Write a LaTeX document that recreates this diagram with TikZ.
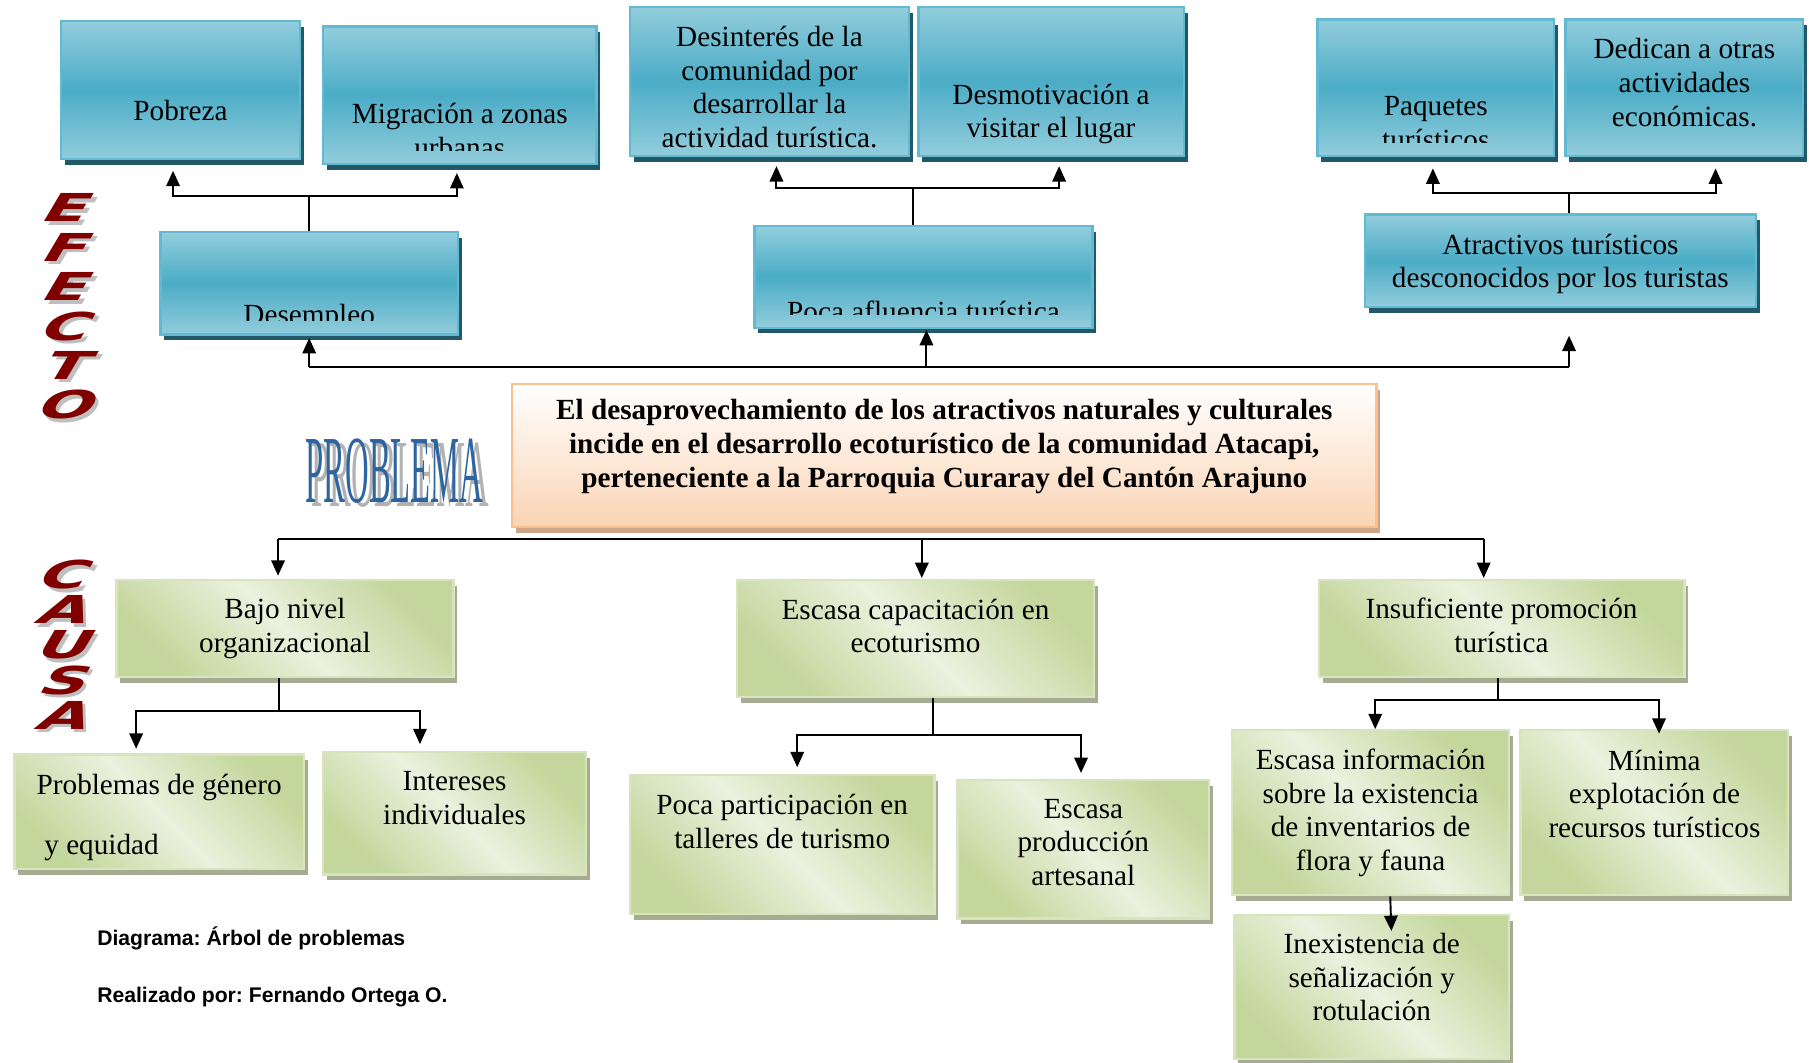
\documentclass[tikz,border=0pt]{standalone}
\usepackage{fontspec}
\setmainfont{Liberation Serif}
\newfontfamily\captionfont{Liberation Sans}
\newfontfamily\letterfont{DejaVu Sans}
\usetikzlibrary{arrows.meta,shadows}

\definecolor{effLight}{RGB}{146,205,220}
\definecolor{effMid}{RGB}{75,172,198}
\definecolor{effLine}{RGB}{100,185,210}
\definecolor{effShade}{RGB}{33,89,104}
\definecolor{probBot}{RGB}{250,212,180}
\definecolor{probLine}{RGB}{250,192,144}
\definecolor{probShade}{RGB}{205,165,135}
\definecolor{cauLight}{RGB}{235,241,222}
\definecolor{cauDark}{RGB}{195,214,155}
\definecolor{cauLine}{RGB}{215,228,189}
\definecolor{cauShade}{RGB}{165,172,145}
\definecolor{letterRed}{RGB}{128,0,0}
\definecolor{wordBlue}{RGB}{46,100,160}

\newcommand\boxfont{\fontsize{15.2}{17.5}\selectfont}

\tikzset{
	arr/.style={-{Triangle[length=8pt,width=7pt]},line width=1pt},
	link/.style={line width=1pt},
	boxtext/.style={align=center,font=\boxfont,inner sep=0pt},
	effbox/.style={draw=effLine,line width=1.2pt,top color=effLight,bottom color=effLight,middle color=effMid,
		inner sep=0pt,align=center,font=\boxfont,
		drop shadow={shadow xshift=2pt,shadow yshift=-3pt,fill=effShade,opacity=1}},
	probbox/.style={draw=probLine,line width=1.2pt,top color=white,bottom color=probBot,
		inner sep=0pt,align=center,font=\boxfont\bfseries,
		drop shadow={shadow xshift=2pt,shadow yshift=-3pt,fill=probShade,opacity=1}},
	caubox/.style={draw=cauLine,line width=1.2pt,top color=cauDark,bottom color=cauDark,middle color=cauLight,
		shading angle=-45,inner sep=0pt,align=center,font=\boxfont,
		drop shadow={shadow xshift=2pt,shadow yshift=-3pt,fill=cauShade,opacity=1}},
	letterart/.style={font=\letterfont\bfseries\fontsize{20}{20}\selectfont,text=letterRed,
		xscale=1.7,xslant=0.35,inner sep=0pt},
	lettershade/.style={letterart,text=black!25},
	wordart/.style={font=\fontsize{50}{50}\selectfont,text=wordBlue,xscale=0.34,inner sep=0pt},
	wordshade/.style={wordart,text=black!30},
	credit/.style={font=\captionfont\bfseries\fontsize{11}{13}\selectfont\frenchspacing,inner sep=0pt,anchor=west}
}

\begin{document}
\begin{tikzpicture}[x=0.6pt,y=-0.6pt]
	\useasboundingbox (0,0) rectangle (1568,921);

	\node[effbox,minimum width=124.2pt,minimum height=72pt,text height=32pt] (pobreza) at (156.5,78) {Pobreza};
	\node[effbox,minimum width=142.2pt,minimum height=71.4pt] (migracion) at (398.5,82.5) {};
	\node[effbox,minimum width=145.2pt,minimum height=77.4pt,text height=69pt] (desinteres) at (667,70.5)
		{Desinterés de la\\comunidad por\\desarrollar la\\actividad turística.};
	\node[effbox,minimum width=138pt,minimum height=77.4pt,text height=62pt] (desmotivacion) at (911,70.5)
		{Desmotivación a\\visitar el lugar};
	\node[effbox,minimum width=123pt,minimum height=70.8pt] (paquetes) at (1244.5,76) {};
	\node[effbox,minimum width=123.6pt,minimum height=70.8pt,text depth=5.4pt] (dedican) at (1460,76)
		{Dedican a otras\\actividades\\económicas.};
	\node[effbox,minimum width=154.8pt,minimum height=53.4pt] (desempleo) at (268,245.5) {};
	\node[effbox,minimum width=175.8pt,minimum height=52.8pt] (afluencia) at (800.5,240) {};
	\node[effbox,minimum width=203.4pt,minimum height=48pt,text height=31.5pt] (atractivos) at (1352.5,226)
		{Atractivos turísticos\\desconocidos por los turistas};

	\begin{scope}
		\clip ([yshift=7.4pt]migracion.south west) rectangle (migracion.north east);
		\node[boxtext,anchor=south] (migracion-txt) at ([yshift=3.5pt]migracion.south) {Migración a zonas\\urbanas};
	\end{scope}
	\begin{scope}
		\clip ([yshift=7.4pt]paquetes.south west) rectangle (paquetes.north east);
		\node[boxtext,anchor=south] (paquetes-txt) at ([yshift=3.5pt]paquetes.south) {Paquetes\\turísticos};
	\end{scope}
	\begin{scope}
		\clip ([yshift=8pt]desempleo.south west) rectangle (desempleo.north east);
		\node[boxtext,anchor=south] (desempleo-txt) at ([yshift=2.6pt]desempleo.south) {Desempleo};
	\end{scope}
	\begin{scope}
		\clip ([yshift=7.4pt]afluencia.south west) rectangle (afluencia.north east);
		\node[boxtext,anchor=south] (afluencia-txt) at ([yshift=3.5pt]afluencia.south) {Poca afluencia turística};
	\end{scope}

	\node[probbox,minimum width=449.4pt,minimum height=74.4pt,text depth=13pt] (problema) at (818.5,395)
		{El desaprovechamiento de los atractivos naturales y culturales\\
		 incide en el desarrollo ecoturístico de la comunidad Atacapi,\\
		 perteneciente a la Parroquia Curaray del Cantón Arajuno};
	\node[wordshade] (problema-sombra) at (347,412) {PROBLEMA};
	\node[wordart] (problema-titulo) at (342,408) {PROBLEMA};

	\foreach \l [count=\i] in {E,F,E,C,T,O}{
		\node[lettershade] (efecto-s\i) at (63,{183+34.2*(\i-1)}) {\l};
		\node[letterart] (efecto-\i) at (60,{180+34.2*(\i-1)}) {\l};
	}
	\foreach \l [count=\i] in {C,A,U,S,A}{
		\node[lettershade] (causa-s\i) at (61,{501+30.5*(\i-1)}) {\l};
		\node[letterart] (causa-\i) at (58,{498+30.5*(\i-1)}) {\l};
	}

	\node[caubox,minimum width=175.2pt,minimum height=50.4pt] (bajo) at (247,545) {Bajo nivel\\organizacional};
	\node[caubox,minimum width=185.4pt,minimum height=60.6pt,text depth=13.2pt] (capacitacion) at (793.5,553.5)
		{Escasa capacitación en\\ecoturismo};
	\node[caubox,minimum width=190.2pt,minimum height=50.4pt,text depth=3.6pt] (promocion) at (1301.5,545)
		{Insuficiente promoción\\turística};
	\node[caubox,minimum width=150.6pt,minimum height=59.4pt,align=left,text height=47.6pt] (genero) at (138,703.5)
		{Problemas de género\\[13.8pt]\hspace{4pt}y equidad};
	\node[caubox,minimum width=136.8pt,minimum height=63.6pt,text depth=16.2pt] (intereses) at (394,705)
		{Intereses\\individuales};
	\node[caubox,minimum width=158.4pt,minimum height=72pt,text depth=24pt] (participacion) at (678,732)
		{Poca participación en\\talleres de turismo};
	\node[caubox,minimum width=130.8pt,minimum height=72pt,text depth=7.2pt] (artesanal) at (939,736)
		{Escasa\\producción\\artesanal};
	\node[caubox,minimum width=144pt,minimum height=85.8pt] (informacion) at (1188,704.5)
		{Escasa información\\sobre la existencia\\de inventarios de\\flora y fauna};
	\node[caubox,minimum width=139.2pt,minimum height=85.8pt,text depth=19.8pt] (minima) at (1434,704.5)
		{Mínima\\explotación de\\recursos turísticos};
	\node[caubox,minimum width=142.8pt,minimum height=75pt,text depth=10.2pt] (inexistencia) at (1189,855.5)
		{Inexistencia de\\señalización y\\rotulación};

	\node[credit] (diagrama) at (84,813) {Diagrama: Árbol de problemas};
	\node[credit] (autor) at (84,864) {Realizado por: Fernando Ortega O.};

	\draw[arr] (desempleo.north) -- ++(0,-30) -| ([xshift=-3.9pt,yshift=-5.4pt]pobreza.south);
	\draw[arr] (desempleo.north) -- ++(0,-30) -| ([xshift=-1.5pt,yshift=-4.2pt]migracion.south);
	\draw[arr] ([xshift=-5.7pt]afluencia.north) -- ++(0,-32) -| ([xshift=3.6pt,yshift=-4.8pt]desinteres.south);
	\draw[arr] ([xshift=-5.7pt]afluencia.north) -- ++(0,-32) -| ([xshift=4.2pt,yshift=-4.8pt]desmotivacion.south);
	\draw[arr] ([xshift=4.5pt]atractivos.north) -- ++(0,-18) -| ([xshift=-1.5pt,yshift=-6pt]paquetes.south);
	\draw[arr] ([xshift=4.5pt]atractivos.north) -- ++(0,-18) -| ([xshift=16.2pt,yshift=-6pt]dedican.south);

	\coordinate (effect-y) at (0,318);
	\coordinate (desempleo-in) at ([yshift=-1.2pt]desempleo.south);
	\coordinate (afluencia-in) at ([xshift=1.5pt,yshift=-0.6pt]afluencia.south);
	\coordinate (atractivos-in) at ([xshift=4.5pt,yshift=-14.4pt]atractivos.south);
	\draw[link] (effect-y -| desempleo-in) -- (effect-y -| atractivos-in);
	\foreach \n in {desempleo,afluencia,atractivos}
		\draw[arr] (effect-y -| \n-in) -- (\n-in);

	\coordinate (cause-y) at (0,467);
	\coordinate (bajo-in) at ([xshift=-3.6pt,yshift=1.8pt]bajo.north);
	\coordinate (capacitacion-in) at ([xshift=3.3pt,yshift=0.6pt]capacitacion.north);
	\coordinate (promocion-in) at ([xshift=-9.3pt,yshift=0.6pt]promocion.north);
	\draw[link] (cause-y -| bajo-in) -- (cause-y -| promocion-in);
	\foreach \n in {bajo,capacitacion,promocion}
		\draw[arr] (cause-y -| \n-in) -- (\n-in);

	\draw[arr] ([xshift=-3pt]bajo.south) -- ++(0,28) -| ([xshift=-12pt,yshift=2.4pt]genero.north);
	\draw[arr] ([xshift=-3pt]bajo.south) -- ++(0,28) -| ([xshift=-18pt,yshift=3.6pt]intereses.north);
	\draw[arr] ([xshift=9.3pt]capacitacion.south) -- ++(0,32) -| ([xshift=7.8pt,yshift=3.6pt]participacion.north);
	\draw[arr] ([xshift=9.3pt]capacitacion.south) -- ++(0,32) -| ([xshift=-1.2pt,yshift=3pt]artesanal.north);
	\draw[arr] ([xshift=-2pt]promocion.south) -- ++(0,19) -| ([xshift=2.4pt]informacion.north);
	\draw[arr] ([xshift=-2pt]promocion.south) -- ++(0,19) -| ([xshift=2.4pt,yshift=-2.4pt]minima.north);
	\draw[arr] ([xshift=10.2pt]informacion.south) -- ([xshift=10.2pt,yshift=-9pt]inexistencia.north);

\end{tikzpicture}
\end{document}
